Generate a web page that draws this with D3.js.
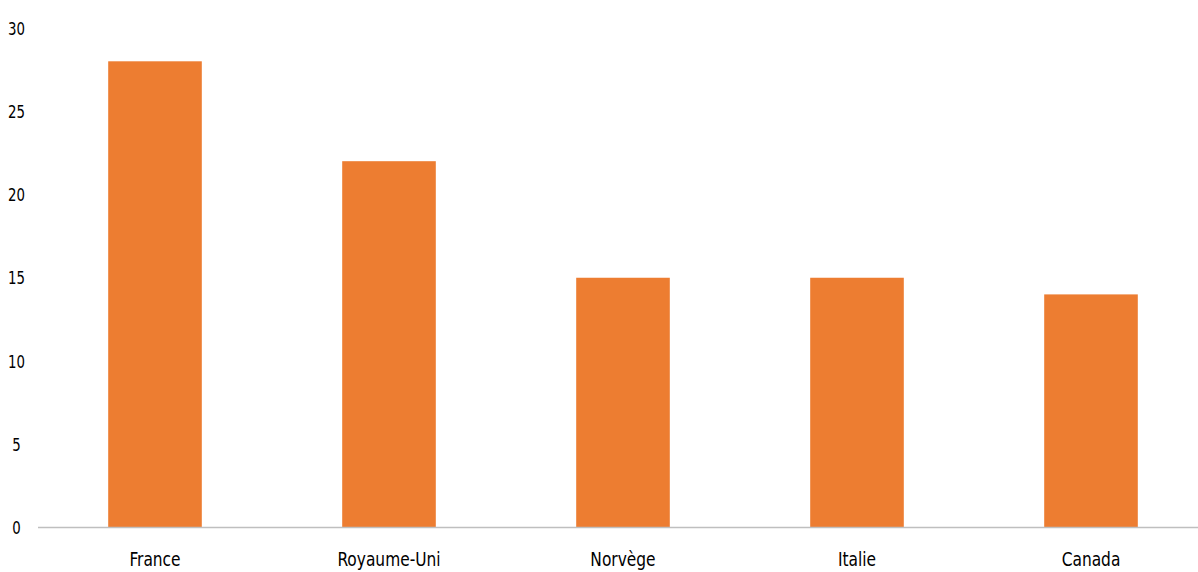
<!DOCTYPE html>
<html><head><meta charset="utf-8">
<script src="https://cdn.jsdelivr.net/npm/d3@7"></script>
<style>
body{margin:0;background:#fff;}
text{font-family:"DejaVu Sans Condensed","DejaVu Sans",sans-serif;font-stretch:condensed;fill:#000;}
</style></head>
<body><svg id="c" width="1198" height="572"></svg>
<script>
const categories = ["France","Royaume-Uni","Norvège","Italie","Canada"];
const values = [28,22,15,15,14];
const yTicks = [0,5,10,15,20,25,30];

const svg = d3.select("#c");
const x = d3.scaleBand().domain(categories).range([38,1208]).paddingInner(0.6).paddingOuter(0.3);
const y = d3.scaleLinear().domain([0,30]).range([527.5,28]);

svg.selectAll("rect.bar").data(values).join("rect")
  .attr("class","bar")
  .attr("x",(d,i)=>x(categories[i]))
  .attr("width",x.bandwidth())
  .attr("y",d=>y(d))
  .attr("height",d=>y(0)-y(d))
  .attr("fill","#ED7D31");

svg.append("line").attr("x1",38).attr("x2",1198).attr("y1",y(0)).attr("y2",y(0))
  .attr("stroke","#BFBFBF").attr("stroke-width",1.3);

svg.selectAll("text.yt").data(yTicks).join("text")
  .attr("class","yt")
  .attr("transform",d=>`translate(16.5,${y(d)}) scale(0.8,1)`)
  .attr("dy","0.36em")
  .attr("text-anchor","middle").style("font-size","18.5px").text(d=>d);

svg.selectAll("text.xt").data(categories).join("text")
  .attr("class","xt")
  .attr("transform",d=>`translate(${x(d)+x.bandwidth()/2},566) scale(0.88,1)`)
  .attr("text-anchor","middle").style("font-size","19.5px").text(d=>d);
</script></body></html>
